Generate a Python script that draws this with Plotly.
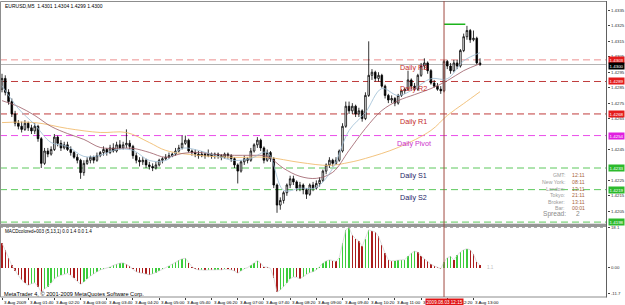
import plotly.graph_objects as go

# ---------------- data ----------------
bars = list(range(147))
open_ = [1.4284,1.4291,1.4282,1.4276,1.4268,1.4262,1.4260,1.4258,1.4262,1.4259,
         1.4257,1.4260,1.4252,1.4236,1.4244,1.4242,1.4245,1.4253,1.4249,1.4246,
         1.4248,1.4245,1.4243,1.4240,1.4238,1.4230,1.4236,1.4238,1.4240,1.4238,
         1.4241,1.4243,1.4245,1.4243,1.4246,1.4244,1.4248,1.4246,1.4248,1.4249,
         1.4247,1.4241,1.4238,1.4237,1.4238,1.4235,1.4234,1.4233,1.4235,1.4238,
         1.4239,1.4240,1.4241,1.4242,1.4244,1.4246,1.4249,1.4251,1.4244,1.4243,
         1.4242,1.4241,1.4242,1.4241,1.4242,1.4241,1.4242,1.4241,1.4240,1.4242,
         1.4241,1.4239,1.4235,1.4231,1.4237,1.4239,1.4238,1.4244,1.4248,1.4251,
         1.4246,1.4238,1.4243,1.4239,1.4222,1.4209,1.4212,1.4217,1.4222,1.4226,
         1.4224,1.4220,1.4222,1.4219,1.4216,1.4222,1.4220,1.4223,1.4225,1.4231,
         1.4235,1.4238,1.4236,1.4238,1.4244,1.4260,1.4273,1.4270,1.4273,1.4268,
         1.4270,1.4265,1.4280,1.4293,1.4295,1.4291,1.4293,1.4286,1.4280,1.4277,
         1.4278,1.4275,1.4280,1.4283,1.4284,1.4290,1.4286,1.4284,1.4293,1.4299,
         1.4301,1.4296,1.4288,1.4286,1.4284,1.4283,1.4302,1.4299,1.4296,1.4301,
         1.4299,1.4309,1.4318,1.4322,1.4316,1.4317,1.4301]
high = [1.4294,1.4293,1.4284,1.4278,1.4270,1.4264,1.4263,1.4264,1.4263,1.4261,
        1.4262,1.4261,1.4253,1.4246,1.4246,1.4247,1.4255,1.4254,1.4251,1.4250,
        1.4250,1.4247,1.4244,1.4242,1.4239,1.4238,1.4240,1.4241,1.4241,1.4243,
        1.4244,1.4247,1.4246,1.4248,1.4249,1.4250,1.4251,1.4250,1.4258,1.4251,
        1.4248,1.4243,1.4240,1.4240,1.4239,1.4237,1.4236,1.4237,1.4239,1.4240,
        1.4242,1.4243,1.4243,1.4246,1.4248,1.4254,1.4254,1.4252,1.4245,1.4245,
        1.4244,1.4244,1.4243,1.4245,1.4243,1.4243,1.4243,1.4242,1.4243,1.4243,
        1.4242,1.4240,1.4236,1.4238,1.4241,1.4240,1.4246,1.4249,1.4253,1.4252,
        1.4247,1.4245,1.4244,1.4240,1.4223,1.4214,1.4218,1.4223,1.4228,1.4228,
        1.4225,1.4224,1.4223,1.4220,1.4223,1.4224,1.4225,1.4227,1.4232,1.4236,
        1.4240,1.4239,1.4240,1.4245,1.4262,1.4276,1.4276,1.4275,1.4274,1.4272,
        1.4271,1.4282,1.4315,1.4297,1.4296,1.4295,1.4294,1.4287,1.4281,1.4280,
        1.4279,1.4281,1.4284,1.4285,1.4296,1.4291,1.4288,1.4294,1.4301,1.4304,
        1.4302,1.4297,1.4290,1.4288,1.4286,1.4303,1.4303,1.4301,1.4303,1.4303,
        1.4310,1.4320,1.4325,1.4323,1.4322,1.4318,1.4304]
low = [1.4282,1.4280,1.4274,1.4266,1.4260,1.4258,1.4256,1.4257,1.4257,1.4255,
       1.4255,1.4250,1.4233,1.4235,1.4240,1.4241,1.4244,1.4247,1.4244,1.4245,
       1.4244,1.4241,1.4239,1.4236,1.4226,1.4228,1.4235,1.4236,1.4236,1.4237,
       1.4240,1.4241,1.4241,1.4242,1.4243,1.4243,1.4245,1.4245,1.4246,1.4245,
       1.4239,1.4236,1.4234,1.4235,1.4233,1.4232,1.4231,1.4232,1.4234,1.4236,
       1.4238,1.4239,1.4240,1.4241,1.4243,1.4245,1.4248,1.4243,1.4241,1.4240,
       1.4239,1.4240,1.4239,1.4240,1.4239,1.4239,1.4239,1.4238,1.4239,1.4239,
       1.4237,1.4233,1.4223,1.4230,1.4235,1.4236,1.4237,1.4243,1.4246,1.4244,
       1.4236,1.4237,1.4237,1.4220,1.4204,1.4206,1.4210,1.4215,1.4220,1.4222,
       1.4218,1.4218,1.4216,1.4213,1.4215,1.4218,1.4219,1.4221,1.4224,1.4229,
       1.4233,1.4234,1.4235,1.4237,1.4243,1.4259,1.4268,1.4268,1.4266,1.4266,
       1.4263,1.4264,1.4279,1.4290,1.4289,1.4289,1.4285,1.4278,1.4275,1.4275,
       1.4273,1.4274,1.4279,1.4281,1.4283,1.4284,1.4283,1.4283,1.4292,1.4297,
       1.4294,1.4287,1.4285,1.4283,1.4281,1.4282,1.4297,1.4294,1.4295,1.4297,
       1.4298,1.4308,1.4316,1.4314,1.4315,1.4300,1.4299]
close = [1.4291,1.4282,1.4276,1.4268,1.4262,1.4260,1.4258,1.4262,1.4259,1.4257,
         1.4260,1.4252,1.4236,1.4244,1.4242,1.4245,1.4253,1.4249,1.4246,1.4248,
         1.4245,1.4243,1.4240,1.4238,1.4230,1.4236,1.4238,1.4240,1.4238,1.4241,
         1.4243,1.4245,1.4243,1.4246,1.4244,1.4248,1.4246,1.4248,1.4249,1.4247,
         1.4241,1.4238,1.4237,1.4238,1.4235,1.4234,1.4233,1.4235,1.4238,1.4239,
         1.4240,1.4241,1.4242,1.4244,1.4246,1.4249,1.4251,1.4244,1.4243,1.4242,
         1.4241,1.4242,1.4241,1.4242,1.4241,1.4242,1.4241,1.4240,1.4242,1.4241,
         1.4239,1.4235,1.4231,1.4237,1.4239,1.4238,1.4244,1.4248,1.4251,1.4246,
         1.4238,1.4243,1.4239,1.4222,1.4209,1.4212,1.4217,1.4222,1.4226,1.4224,
         1.4220,1.4222,1.4219,1.4216,1.4222,1.4220,1.4223,1.4225,1.4231,1.4235,
         1.4238,1.4236,1.4238,1.4244,1.4260,1.4273,1.4270,1.4273,1.4268,1.4270,
         1.4265,1.4280,1.4293,1.4295,1.4291,1.4293,1.4286,1.4280,1.4277,1.4278,
         1.4275,1.4280,1.4283,1.4284,1.4290,1.4286,1.4284,1.4293,1.4299,1.4301,
         1.4296,1.4288,1.4286,1.4284,1.4283,1.4302,1.4299,1.4296,1.4301,1.4299,
         1.4309,1.4318,1.4322,1.4316,1.4317,1.4301,1.4300]

fast_ma_bars = [0,5,10,15,20,25,30,35,40,45,50,55,60,65,71,76,81,86,91,96,
                101,106,111,116,121,126,131,136,141,146]
fast_ma = [1.42863,1.42715,1.42611,1.42495,1.42470,1.42405,1.42412,1.42450,1.42444,1.42379,
           1.42379,1.42457,1.42444,1.42412,1.42379,1.42392,1.42431,1.42186,1.42199,1.42205,
           1.42328,1.42573,1.42689,1.42844,1.42799,1.42844,1.42908,1.42908,1.43024,1.43076]
mid_ma_bars = fast_ma_bars
mid_ma = [1.42766,1.42728,1.42670,1.42599,1.42553,1.42515,1.42463,1.42457,1.42457,1.42431,
          1.42399,1.42424,1.42431,1.42418,1.42412,1.42412,1.42405,1.42328,1.42276,1.42263,
          1.42302,1.42444,1.42586,1.42702,1.42766,1.42805,1.42844,1.42895,1.42960,1.43005]
slow_ma_bars = [0,10,20,30,38,45,50,60,71,81,91,100,106,111,121,131,136,141,146]
slow_ma = [1.42624,1.42624,1.42586,1.42560,1.42560,1.42495,1.42444,1.42412,1.42399,1.42399,
           1.42366,1.42347,1.42366,1.42392,1.42463,1.42573,1.42670,1.42747,1.42824]

macd = [11.0,8.0,4.5,1.0,-1.5,-3.5,-5.5,-7.0,-8.0,-7.2,
        -6.8,-8.5,-11.0,-9.5,-8.5,-7.0,-5.0,-4.0,-3.5,-3.0,
        -2.6,-3.5,-4.8,-6.0,-7.5,-6.5,-5.0,-3.8,-2.8,-1.8,
        -1.0,-0.6,-0.3,0.3,1.0,1.6,2.0,2.2,1.5,0.6,
        -0.8,-1.8,-2.3,-2.6,-3.0,-3.2,-2.8,-2.2,-1.5,-0.8,
        0.0,0.8,1.6,2.5,3.3,4.0,4.2,2.2,0.5,-0.6,
        -1.0,-1.0,-1.2,-1.0,-1.1,-1.0,-0.9,-1.0,-0.7,-0.8,
        -1.0,-1.5,-2.5,-1.5,-0.5,0.0,1.0,2.0,3.2,2.0,
        0.3,0.2,-0.3,-4.5,-11.0,-10.0,-8.5,-7.0,-5.0,-4.2,
        -4.4,-5.0,-4.0,-3.0,-2.2,-1.8,-1.0,0.5,2.0,3.0,
        3.5,3.2,2.8,4.5,11.0,17.0,18.0,14.5,13.0,12.0,
        9.5,13.0,17.0,16.5,16.0,14.0,10.0,6.5,3.5,3.0,
        3.2,3.3,3.5,3.6,5.0,6.5,7.4,7.0,5.2,4.0,
        3.0,1.5,0.8,0.2,-0.5,2.5,4.5,5.0,3.5,5.5,
        7.0,8.0,8.5,8.0,6.0,2.5,1.1]

pivot_names = ["Daily R3", "Daily R2", "Daily R1", "Daily Pivot", "Daily S1", "Daily S2", "Daily S3"]
pivot_levels = [1.4303, 1.4289, 1.4268, 1.4254, 1.4233, 1.4219, 1.4198]
bid_price = 1.4300
day_high_mark = 1.4326
marker_bar = 135
marker_label = "2009.08.03 12:15"

# price tick labels visible on the right scale (those hidden under the level boxes left out)
price_ticks = [1.4205,1.4215,1.4225,1.4245,1.4265,1.4275,
               1.4285,1.4295,1.4305,1.4315,1.4325,1.4335]
time_tick_bars = [0,8,16,24,32,40,48,56,64,72,80,88,96,104,112,120,128,136,144]
time_tick_labels = ["3 Aug 2009","3 Aug 01:40","3 Aug 02:20","3 Aug 03:00","3 Aug 03:40",
                    "3 Aug 04:20","3 Aug 05:00","3 Aug 05:40","3 Aug 06:20","3 Aug 07:00",
                    "3 Aug 07:40","3 Aug 08:20","3 Aug 09:00","3 Aug 09:40","3 Aug 10:20",
                    "3 Aug 11:00","3 Aug 11:40","3 Aug 12:20","3 Aug 13:00"]
macd_ticks = [18.1, 0.0, -11.7]
macd_tick_text = ["18.1", "0.00", "-11.7"]

info_labels = ["GMT:", "New York:", "London:", "Tokyo:", "Broker:", "Bar:"]
info_values = ["12:11", "08:11", "13:11", "21:11", "13:11", "00:01"]
spread_value = "2"

# ---------------- layout helpers ----------------
W, H = 625, 305
ML, MR, MT, MB = 0, 16, 0, 8
PW, PH = W - ML - MR, H - MT - MB
def fx(px):
    return (px - ML) / PW
def fy(py):
    return (PH - (py - MT)) / PH

MAIN_BOTTOM = 224
MACD_TOP = 226
FONT = "Arial, Liberation Sans, sans-serif"

pivot_line_colors = ["#ec9090", "#c03c3c", "#c03c3c", "#ea4cea", "#5cc85c", "#5cc85c", "#5cc85c"]
pivot_box_colors = ["#e41c1c", "#e41c1c", "#e41c1c", "#e020e0", "#2cba2c", "#2cba2c", "#2cba2c"]
pivot_text_colors = ["#c42a2a", "#c42a2a", "#c42a2a", "#cc30cc", "#1c1c66", "#1c1c66", "#1c1c66"]

fig = go.Figure()

fig.add_trace(go.Candlestick(
    x=bars, open=open_, high=high, low=low, close=close,
    increasing=dict(line=dict(color="#000000", width=0.8), fillcolor="#ffffff"),
    decreasing=dict(line=dict(color="#000000", width=0.8), fillcolor="#000000"),
    whiskerwidth=0, xaxis="x", yaxis="y", showlegend=False, hoverinfo="skip"))

fig.add_trace(go.Scatter(x=slow_ma_bars, y=slow_ma, mode="lines",
                         line=dict(color="#f0bc70", width=0.9, shape="spline"),
                         xaxis="x", yaxis="y", showlegend=False, hoverinfo="skip"))
fig.add_trace(go.Scatter(x=mid_ma_bars, y=mid_ma, mode="lines",
                         line=dict(color="#9a5a64", width=0.8, shape="spline"),
                         xaxis="x", yaxis="y", showlegend=False, hoverinfo="skip"))
fig.add_trace(go.Scatter(x=fast_ma_bars, y=fast_ma, mode="lines",
                         line=dict(color="#9cbcd4", width=0.8, shape="spline"),
                         xaxis="x", yaxis="y", showlegend=False, hoverinfo="skip"))

bar_colors = []
for i, v in enumerate(macd):
    prev = macd[i - 1] if i > 0 else v
    bar_colors.append("#3ccc3c" if (v >= prev and i > 0) else "#aa1c1c")
fig.add_trace(go.Bar(x=bars, y=macd, marker=dict(color=bar_colors, line=dict(width=0)),
                     width=0.42, xaxis="x2", yaxis="y2", showlegend=False, hoverinfo="skip"))
fig.add_trace(go.Scatter(x=bars, y=macd, mode="lines", line=dict(color="#d0d0d0", width=0.7),
                         xaxis="x2", yaxis="y2", showlegend=False, hoverinfo="skip"))

x_range = [-0.61, -0.61 + PW / 3.285]

shapes = []
# pivot lines
for lvl, col in zip(pivot_levels, pivot_line_colors):
    shapes.append(dict(type="line", xref="x", yref="y", x0=x_range[0], x1=x_range[1], y0=lvl, y1=lvl,
                       line=dict(color=col, width=1, dash="7px,4px"), layer="below"))
# bid line
shapes.append(dict(type="line", xref="x", yref="y", x0=x_range[0], x1=x_range[1], y0=bid_price, y1=bid_price,
                   line=dict(color="#b4b4b4", width=1), layer="below"))
# green mark
shapes.append(dict(type="line", xref="x", yref="y", x0=marker_bar, x1=marker_bar + 6.5,
                   y0=day_high_mark, y1=day_high_mark, line=dict(color="#1cb41c", width=1.5)))
# MACD top dotted level
shapes.append(dict(type="line", xref="paper", yref="y2", x0=0, x1=1, y0=macd_ticks[0], y1=macd_ticks[0],
                   line=dict(color="#a0a0a0", width=1, dash="dot")))
# separators and frames
shapes.append(dict(type="rect", xref="paper", yref="paper", x0=fx(0), x1=fx(609), y0=fy(MAIN_BOTTOM + 2.5), y1=fy(MAIN_BOTTOM),
                   fillcolor="#9a9a9a", line=dict(width=0)))
shapes.append(dict(type="rect", xref="paper", yref="paper", x0=fx(0.5), x1=fx(608.5), y0=fy(MAIN_BOTTOM), y1=fy(0.5),
                   line=dict(color="#8c8c8c", width=1)))
shapes.append(dict(type="rect", xref="paper", yref="paper", x0=fx(0.5), x1=fx(608.5), y0=fy(297), y1=fy(MACD_TOP),
                   line=dict(color="#8c8c8c", width=1)))
shapes.append(dict(type="line", xref="paper", yref="paper", x0=fx(608.5), x1=fx(608.5), y0=fy(297.5), y1=fy(0),
                   line=dict(color="#606060", width=1)))
# vertical marker line
shapes.append(dict(type="line", xref="x", yref="paper", x0=marker_bar, x1=marker_bar, y0=fy(297), y1=1,
                   line=dict(color="#a04a40", width=1)))

ann = []
# title texts
ann.append(dict(text="EURUSD,M5  1.4301 1.4304 1.4299 1.4300", xref="paper", yref="paper",
                x=fx(3), y=fy(5), xanchor="left", yanchor="middle", showarrow=False,
                font=dict(family=FONT, size=5, color="#000000")))
ann.append(dict(text="MACDcolored+003 (5,13,1) 0.0 1.4 0.0 1.4", xref="paper", yref="paper",
                x=fx(3), y=fy(231), xanchor="left", yanchor="middle", showarrow=False,
                font=dict(family=FONT, size=4.6, color="#000000")))
ann.append(dict(text="MetaTrader 4, © 2001-2009 MetaQuotes Software Corp.", xref="paper", yref="paper",
                x=fx(2), y=fy(294), xanchor="left", yanchor="middle", showarrow=False,
                font=dict(family=FONT, size=5.6, color="#000000")))
# pivot texts
for name, lvl, col in zip(pivot_names[:6], pivot_levels[:6], pivot_text_colors[:6]):
    ann.append(dict(text=name, xref="x", yref="y", x=125.7, y=lvl, xanchor="center", yanchor="top",
                    yshift=-1, showarrow=False, font=dict(family=FONT, size=7.2, color=col)))
# right price boxes
for lvl, col in zip(pivot_levels, pivot_box_colors):
    ann.append(dict(text="%.4f" % lvl, xref="paper", yref="y", x=1, y=lvl, xanchor="left", yanchor="middle",
                    xshift=1, showarrow=False, bgcolor=col, borderpad=0.6,
                    font=dict(family=FONT, size=4.4, color="#ffffff")))
ann.append(dict(text="%.4f" % bid_price, xref="paper", yref="y", x=1, y=bid_price, xanchor="left", yanchor="middle",
                xshift=1, yshift=-1, showarrow=False, bgcolor="#000000", borderpad=0.6,
                font=dict(family=FONT, size=4.4, color="#ffffff")))
# info box
for k, (lab, val) in enumerate(zip(info_labels, info_values)):
    yy = 175 + k * 6.6
    ann.append(dict(text=lab, xref="paper", yref="paper", x=fx(569), y=fy(yy), xanchor="right", yanchor="middle",
                    showarrow=False, font=dict(family=FONT, size=5.2, color="#9a9a9a")))
    ann.append(dict(text=val, xref="paper", yref="paper", x=fx(572), y=fy(yy), xanchor="left", yanchor="middle",
                    showarrow=False, font=dict(family=FONT, size=5.2, color="#a8643c")))
ann.append(dict(text="Spread:", xref="paper", yref="paper", x=fx(570), y=fy(213.5), xanchor="right", yanchor="middle",
                showarrow=False, font=dict(family=FONT, size=6.6, color="#8a8a8a")))
ann.append(dict(text=spread_value, xref="paper", yref="paper", x=fx(576), y=fy(213.5), xanchor="left", yanchor="middle",
                showarrow=False, font=dict(family=FONT, size=6.6, color="#8a8a8a")))
# faint MACD value label
ann.append(dict(text="1.1", xref="x2", yref="y2", x=147.5, y=0, xanchor="left", yanchor="middle",
                showarrow=False, font=dict(family=FONT, size=4.6, color="#c0c0c0")))
# time labels
for b, lab in zip(time_tick_bars, time_tick_labels):
    ann.append(dict(text=lab, xref="x2", yref="paper", x=b, y=fy(298), xanchor="left", yanchor="top",
                    xshift=0, showarrow=False, font=dict(family=FONT, size=4.4, color="#000000")))
ann.append(dict(text=marker_label, xref="x2", yref="paper", x=marker_bar, y=fy(298), xanchor="center", yanchor="top",
                showarrow=False, bgcolor="#e01414", borderpad=0.5,
                font=dict(family=FONT, size=4.6, color="#ffffff")))

fig.update_layout(
    width=W, height=H, margin=dict(l=ML, r=MR, t=MT, b=MB),
    paper_bgcolor="#ffffff", plot_bgcolor="#ffffff",
    showlegend=False, bargap=0, dragmode=False,
    xaxis=dict(domain=[0, 1], range=x_range, anchor="y", showgrid=False, zeroline=False,
               showticklabels=False, rangeslider=dict(visible=False), fixedrange=True),
    yaxis=dict(domain=[fy(MAIN_BOTTOM), 1], range=[1.41966, 1.43411], side="right", anchor="x",
               tickvals=price_ticks, ticktext=["%.4f" % t for t in price_ticks],
               ticks="outside", ticklen=2, tickcolor="#404040", showgrid=False, zeroline=False,
               tickfont=dict(family=FONT, size=4.4, color="#303030"), fixedrange=True),
    xaxis2=dict(domain=[0, 1], range=x_range, anchor="y2", matches="x", showgrid=False, zeroline=False,
                showticklabels=False, ticks="outside", tickvals=time_tick_bars, ticklen=2,
                tickcolor="#404040", fixedrange=True),
    yaxis2=dict(domain=[0, fy(MACD_TOP)], range=[-13.2, 18.6], side="right", anchor="x2",
                tickvals=macd_ticks, ticktext=macd_tick_text, ticks="outside", ticklen=2,
                tickcolor="#404040", showgrid=False, zeroline=False,
                tickfont=dict(family=FONT, size=4.4, color="#303030"), fixedrange=True),
    shapes=shapes, annotations=ann,
)

fig.write_html("out.html", config={"displayModeBar": False, "staticPlot": True})
